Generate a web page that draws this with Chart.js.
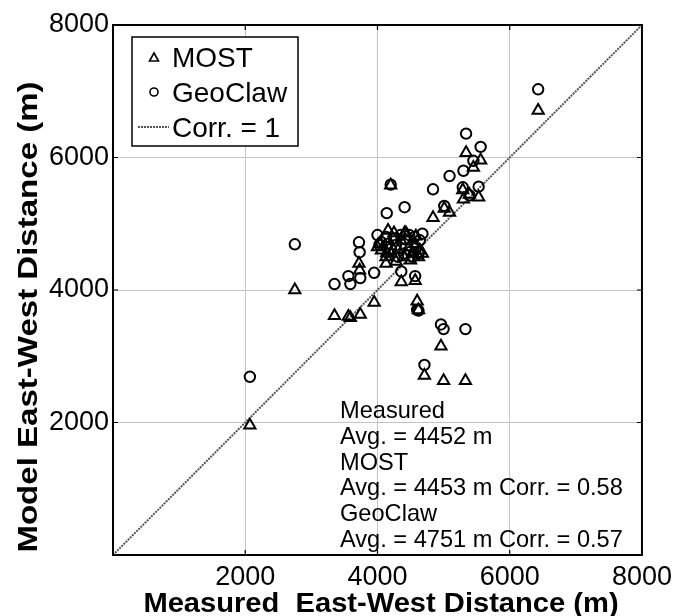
<!DOCTYPE html>
<html>
<head>
<meta charset="utf-8">
<script src="https://cdn.jsdelivr.net/npm/chart.js@4.4.1/dist/chart.umd.min.js"></script>
<style>
  html, body { margin: 0; padding: 0; background: #fff; }
</style>
</head>
<body>
<canvas id="diagramm" width="678" height="616"></canvas>
<script>
// measured east-west distance (m) per station, with the two model results
const measured = [2070, 2750, 3350, 3560, 3590, 3720, 3730, 3740, 3950, 4360,
  4570, 4600, 4620, 4960, 5000, 5330, 4710, 4200, 4410, 4140,
  4840, 5090, 5300, 5340, 5560, 5450, 5530, 5290, 5390, 5010,
  6430, 4680, 4000, 4030, 4060, 4130, 4130, 4160, 4250, 4280,
  4310, 4350, 4430, 4500, 4530, 4560, 4580, 4620, 4640, 4480,
  4200, 4400];
const mostModel = [1960, 4000, 3610, 3600, 3580, 4400, 4300, 3630, 3810, 4120,
  4140, 3830, 3700, 3150, 2630, 2630, 2710, 5580, 4860, 4560,
  5090, 5170, 5370, 6070, 5960, 5850, 5400, 5510, 5440, 5230,
  6710, 4550, 4650, 4700, 4600, 4500, 4400, 4900, 4860, 4430,
  4600, 4750, 4860, 4450, 4550, 4700, 4810, 4500, 4600, 4650,
  4550, 4500];
const geoclawModel = [2690, 4690, 4090, 4210, 4090, 4720, 4570, 4180, 4260, 4280,
  4210, 3700, 3690, 3480, 3410, 3410, 2870, 5590, 5250, 5160,
  5520, 5720, 5800, 6360, 6160, 5950, 5560, 5550, 5430, 5270,
  7030, 4850, 4830, 4680, 4720, 4800, 4650, 4700, 4780, 4680,
  4500, 4830, 4760, 4580, 4500, 4800, 4630, 4550, 4750, 4830,
  4620, 4550];
const tickValues = [2000, 4000, 6000];
const seriesNames = ["MOST", "GeoClaw", "Corr. = 1"];
const notes = ["Measured", "Avg. = 4452 m", "MOST", "Avg. = 4453 m Corr. = 0.58",
  "GeoClaw", "Avg. = 4751 m Corr. = 0.57"];

const FONT = "'Liberation Sans', Arial, Helvetica, sans-serif";

const extras = {
  id: "extras",
  afterDraw(chart) {
    const ctx = chart.ctx;
    const a = chart.chartArea;
    const xs = chart.scales.x;
    const ys = chart.scales.y;
    ctx.save();

    // frame
    ctx.strokeStyle = "#000";
    ctx.lineWidth = 2;
    ctx.strokeRect(a.left, a.top, a.right - a.left, a.bottom - a.top);

    // inward tick marks
    ctx.lineWidth = 1.2;
    ctx.beginPath();
    tickValues.forEach((v) => {
      const px = xs.getPixelForValue(v);
      const py = ys.getPixelForValue(v);
      ctx.moveTo(px, a.bottom); ctx.lineTo(px, a.bottom - 5);
      ctx.moveTo(px, a.top); ctx.lineTo(px, a.top + 5);
      ctx.moveTo(a.left, py); ctx.lineTo(a.left + 5, py);
      ctx.moveTo(a.right, py); ctx.lineTo(a.right - 5, py);
    });
    ctx.stroke();

    // legend
    ctx.fillStyle = "#fff";
    ctx.fillRect(132, 37, 166, 109);
    ctx.lineWidth = 1.5;
    ctx.strokeRect(132, 37, 166, 109);
    ctx.fillStyle = "#000";
    ctx.font = "28px " + FONT;
    ctx.textBaseline = "alphabetic";
    ctx.fillText(seriesNames[0], 172, 67);
    ctx.fillText(seriesNames[1], 172, 102);
    ctx.fillText(seriesNames[2], 172, 137);
    ctx.lineWidth = 1.6;
    ctx.beginPath();
    ctx.moveTo(154, 53);
    ctx.lineTo(158.5, 61);
    ctx.lineTo(149.5, 61);
    ctx.closePath();
    ctx.stroke();
    ctx.beginPath();
    ctx.arc(154, 92, 4, 0, Math.PI * 2);
    ctx.stroke();
    ctx.strokeStyle = "#555";
    ctx.lineWidth = 2;
    ctx.setLineDash([2, 1]);
    ctx.beginPath();
    ctx.moveTo(138, 127); ctx.lineTo(169, 127);
    ctx.stroke();
    ctx.setLineDash([]);

    // summary text
    ctx.fillStyle = "#000";
    ctx.font = "23.6px " + FONT;
    notes.forEach((t, i) => {
      ctx.fillText(t, 340, 418 + i * 25.8);
    });

    // axis titles
    ctx.font = "bold 28px " + FONT;
    ctx.textAlign = "center";
    ctx.save();
    ctx.translate(381, 612);
    ctx.scale(1.04, 1);
    ctx.fillText("Measured  East-West Distance (m)", 0, 0);
    ctx.restore();
    ctx.translate(37, 317);
    ctx.rotate(-Math.PI / 2);
    ctx.scale(1.18, 1.02);
    ctx.fillText("Model East-West Distance (m)", 0, 0);
    ctx.restore();
  },
};

const tickFont = { family: FONT, size: 27 };
const gridColor = (c) => (c.tick.value === 0 || c.tick.value === 8000 ? "rgba(0,0,0,0)" : "#c4c4c4");

new Chart(document.getElementById("diagramm").getContext("2d"), {
  type: "scatter",
  data: {
    datasets: [
      {
        label: seriesNames[0],
        data: measured.map((x, i) => ({ x: x, y: mostModel[i] })),
        pointStyle: "triangle",
        pointRadius: 6.5,
        pointBorderWidth: 2,
        pointBorderColor: "#000",
        pointBackgroundColor: "rgba(0,0,0,0)",
      },
      {
        label: seriesNames[1],
        data: measured.map((x, i) => ({ x: x, y: geoclawModel[i] })),
        pointStyle: "circle",
        pointRadius: 5.2,
        pointBorderWidth: 2,
        pointBorderColor: "#000",
        pointBackgroundColor: "rgba(0,0,0,0)",
      },
      {
        label: seriesNames[2],
        data: [{ x: 0, y: 0 }, { x: 8000, y: 8000 }],
        showLine: true,
        borderColor: "#555",
        borderWidth: 2,
        borderDash: [2, 1],
        pointRadius: 0,
      },
    ],
  },
  options: {
    responsive: false,
    animation: false,
    devicePixelRatio: 1,
    layout: { padding: { top: 25, right: 35, left: 0, bottom: 0 } },
    plugins: { legend: { display: false }, tooltip: { enabled: false } },
    scales: {
      x: {
        type: "linear",
        min: 0,
        max: 8000,
        afterFit: (s) => { s.height = 61; },
        ticks: {
          stepSize: 2000,
          padding: 6,
          color: "#000",
          font: tickFont,
          maxRotation: 0,
          callback: (v) => (v === 0 ? "" : String(v)),
        },
        grid: { color: gridColor, drawTicks: false, lineWidth: 1 },
        border: { display: false },
      },
      y: {
        type: "linear",
        min: 0,
        max: 8000,
        afterFit: (s) => { s.width = 113; },
        ticks: {
          stepSize: 2000,
          padding: 4,
          color: "#000",
          font: tickFont,
          callback: (v) => (v === 0 ? "" : String(v)),
        },
        grid: { color: gridColor, drawTicks: false, lineWidth: 1 },
        border: { display: false },
      },
    },
  },
  plugins: [extras],
});
</script>
</body>
</html>
